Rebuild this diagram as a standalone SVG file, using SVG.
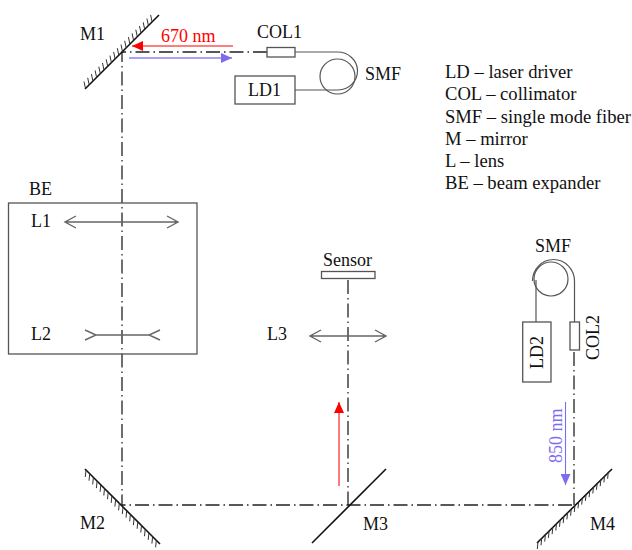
<svg xmlns="http://www.w3.org/2000/svg" width="632" height="550" viewBox="0 0 632 550">
<style>
text{font-family:"Liberation Serif","Times New Roman",serif;font-size:18px;fill:#111}
#legend text{font-size:18.6px}
.box{fill:#fff;stroke:#555;stroke-width:1.3}
.fib{fill:none;stroke:#555;stroke-width:1.2}
.beam{fill:none;stroke:#222;stroke-width:1.3;stroke-dasharray:14 4 1.5 4}
.mir{fill:none;stroke:#111;stroke-width:1.6}
.hat{fill:none;stroke:#333;stroke-width:1}
.lens{fill:none;stroke:#666;stroke-width:1.4}
</style>
<defs>
<marker id="r" markerUnits="userSpaceOnUse" markerWidth="12" markerHeight="10" refX="11" refY="5" orient="auto"><path d="M0 0L11 5L0 10z" fill="#f00"/></marker>
<marker id="b" markerUnits="userSpaceOnUse" markerWidth="12" markerHeight="10" refX="11" refY="5" orient="auto"><path d="M0 0L11 5L0 10z" fill="#7b6cf0"/></marker>
</defs>
<g id="connectors">
<path class="beam" d="M267 52H122V505H574"/>
<path class="beam" d="M574 352V505"/>
<path class="beam" d="M348 280V505"/>
<path d="M233 46H132" stroke="#f00" stroke-width="1.2" fill="none" marker-end="url(#r)"/>
<path d="M129 58H232" stroke="#8f82f5" stroke-width="1.5" fill="none" marker-end="url(#b)"/>
<path d="M339 486V402" stroke="#f33" stroke-width="1.3" fill="none" marker-end="url(#r)"/>
<path d="M565.500 402V485" stroke="#7b6cf0" stroke-width="1.1" fill="none" marker-end="url(#b)"/>
<path class="fib" d="M295 52H337A20 19 0 0 1 338 90H295"/>
<path class="fib" d="M574.500 322V281A21 21.500 0 0 0 532.500 281M536 322V280"/>
</g>
<g id="M1"><path class="mir" d="M85 89L159 15"/><path class="hat" d="M85.500 88.500l-1.500-7m5.200 3.300l-1.500-7m5.200 3.300l-1.500-7m5.200 3.300l-1.500-7m5.200 3.300l-1.500-7m5.200 3.300l-1.500-7m5.200 3.300l-1.500-7m5.200 3.300l-1.500-7m5.200 3.300l-1.500-7m5.200 3.300l-1.500-7m5.200 3.300l-1.500-7m5.200 3.300l-1.500-7m5.200 3.300l-1.500-7m5.200 3.300l-1.500-7m5.200 3.300l-1.500-7m5.200 3.300l-1.500-7m5.200 3.300l-1.500-7m5.200 3.300l-1.500-7m5.200 3.300l-1.500-7"/><text x="80" y="40">M1</text></g>
<g id="M2"><path class="mir" d="M85 469L160 544"/><path class="hat" d="M86 470l-.7 7m4.400-3.300l-.7 7m4.400-3.300l-.7 7m4.400-3.300l-.7 7m4.400-3.300l-.7 7m4.400-3.300l-.7 7m4.400-3.300l-.7 7m4.400-3.300l-.7 7m4.400-3.300l-.7 7m4.400-3.300l-.7 7m4.400-3.300l-.7 7m4.400-3.300l-.7 7m4.400-3.300l-.7 7m4.400-3.300l-.7 7m4.400-3.300l-.7 7m4.400-3.300l-.7 7m4.400-3.300l-.7 7m4.400-3.300l-.7 7m4.400-3.300l-.7 7m4.400-3.300l-.7 7"/><text x="80" y="529">M2</text></g>
<g id="M3"><path class="mir" d="M312 543L386 469"/><text x="363" y="530">M3</text></g>
<g id="M4"><path class="mir" d="M537 543L612 469"/><path class="hat" d="M538 542l-.7 7m4.400-10.700l-.7 7m4.400-10.700l-.7 7m4.400-10.700l-.7 7m4.400-10.700l-.7 7m4.400-10.700l-.7 7m4.400-10.700l-.7 7m4.400-10.700l-.7 7m4.400-10.700l-.7 7m4.400-10.700l-.7 7m4.400-10.700l-.7 7m4.400-10.700l-.7 7m4.400-10.700l-.7 7m4.400-10.700l-.7 7m4.400-10.700l-.7 7m4.400-10.700l-.7 7m4.400-10.700l-.7 7m4.400-10.700l-.7 7m4.400-10.700l-.7 7m4.400-10.700l-.7 7"/><text x="590" y="530">M4</text></g>
<g id="COL1"><rect class="box" x="267" y="47.500" width="28" height="9.500"/><text x="257" y="38">COL1</text></g>
<g id="LD1"><rect class="box" x="235" y="76" width="60" height="28"/><text x="248" y="96">LD1</text></g>
<g id="SMF1"><circle class="fib" cx="337.500" cy="76.500" r="17.500"/><text x="365" y="80">SMF</text></g>
<text x="161" y="42" style="fill:#f00">670 nm</text>
<g id="legend">
<text x="445" y="78">LD – laser driver</text>
<text x="445" y="100">COL – collimator</text>
<text x="445" y="123">SMF – single mode fiber</text>
<text x="445" y="145">M – mirror</text>
<text x="445" y="167">L – lens</text>
<text x="445" y="189">BE – beam expander</text>
</g>
<g id="BE"><rect x="8.500" y="203" width="188.500" height="151" fill="none" stroke="#555" stroke-width="1.300"/><text x="29" y="195">BE</text></g>
<g id="L1"><path class="lens" d="M65 222H178M76 216L65 222L76 228M167 216L178 222L167 228"/><text x="31" y="227">L1</text></g>
<g id="L2"><path class="lens" d="M96 335H149M85 330L96 335L85 340M160 330L149 335L160 340"/><text x="31" y="340">L2</text></g>
<g id="L3"><path class="lens" d="M310 336H386M321 330L310 336L321 342M375 330L386 336L375 342"/><text x="267" y="340">L3</text></g>
<g id="Sensor"><rect class="box" x="321.500" y="271.500" width="53.500" height="7"/><text x="323" y="266">Sensor</text></g>
<g id="LD2"><rect class="box" x="522.700" y="322" width="28.300" height="60"/><text transform="translate(543 369) rotate(-90)">LD2</text></g>
<g id="COL2"><rect class="box" x="570" y="322" width="9.500" height="28"/><text transform="translate(599 360) rotate(-90)">COL2</text></g>
<g id="SMF2"><circle class="fib" cx="551" cy="279" r="17"/><text x="535" y="252">SMF</text></g>
<text transform="translate(562 463) rotate(-90)" style="fill:#7b6cf0">850 nm</text>
</svg>
